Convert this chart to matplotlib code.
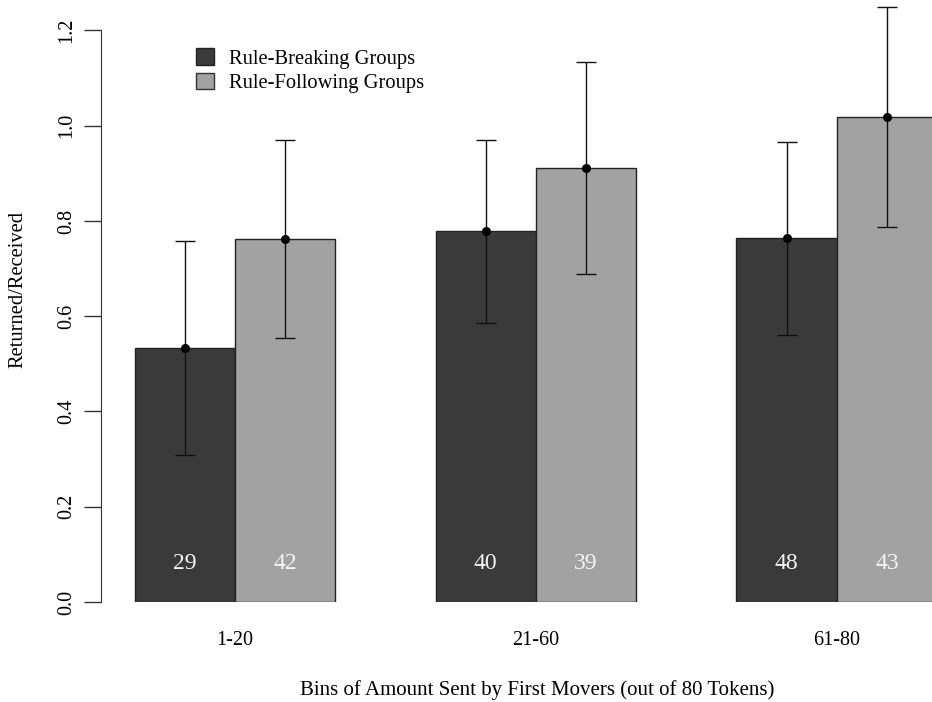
import matplotlib.pyplot as plt
import numpy as np
from matplotlib.patches import Patch

plt.rcParams["font.family"] = ["Liberation Serif", "DejaVu Serif"]

bins = ["1-20", "21-60", "61-80"]
series_names = ["Rule-Breaking Groups", "Rule-Following Groups"]

breaking_mean = [0.534, 0.778, 0.764]
breaking_low = [0.309, 0.585, 0.561]
breaking_high = [0.759, 0.970, 0.966]
breaking_n = [29, 40, 48]

following_mean = [0.762, 0.912, 1.018]
following_low = [0.554, 0.689, 0.788]
following_high = [0.970, 1.134, 1.249]
following_n = [42, 39, 43]

dark = "#3a3a3a"
light = "#a2a2a2"


def main():
    fig = plt.figure(figsize=(9.32, 7.02), dpi=100)
    # axes placed so that the y axis sits at x=101px and 0 at y=602px
    ax = fig.add_axes([101 / 932, 100 / 702, 1 - 101 / 932, 602 / 702])

    centers = np.arange(len(bins)) * 3.0
    x_dark = centers - 0.5
    x_light = centers + 0.5

    for xs, means, lows, highs, ns, color in [
        (x_dark, breaking_mean, breaking_low, breaking_high, breaking_n, dark),
        (x_light, following_mean, following_low, following_high, following_n, light),
    ]:
        ax.bar(xs, means, width=1.0, color=color, edgecolor="#222222", linewidth=1.0)
        means = np.array(means)
        yerr = [means - np.array(lows), np.array(highs) - means]
        ax.errorbar(xs, means, yerr=yerr, fmt="o", color="black", markersize=5.5,
                    ecolor="#111111", elinewidth=1.0, capsize=7, capthick=1.0,
                    clip_on=False)
        for x, n in zip(xs, ns):
            ax.text(x, 0.08, str(n), ha="center", va="center", color="#f4f4f4",
                    fontsize=17)

    ax.set_xlim((101 - 235) / 100.3, (932 - 235) / 100.3)
    ax.set_ylim(0, 1.264)

    ax.set_yticks([0.0, 0.2, 0.4, 0.6, 0.8, 1.0, 1.2])
    ax.set_yticklabels(["0.0", "0.2", "0.4", "0.6", "0.8", "1.0", "1.2"],
                       rotation=90, va="center", fontsize=14.5)
    ax.tick_params(axis="y", length=12, width=1.0, pad=6, color="#333333")

    ax.set_xticks(centers)
    ax.set_xticklabels(bins, fontsize=14.5)
    ax.tick_params(axis="x", length=0, pad=21)

    for side in ["top", "right", "bottom"]:
        ax.spines[side].set_visible(False)
    ax.spines["left"].set_bounds(0, 1.2)
    ax.spines["left"].set_color("#333333")

    fig.text(18 / 932, 1 - 290 / 702, "Returned/Received", rotation=90,
             ha="center", va="center", fontsize=14.8)
    fig.text(537 / 932, 1 - 690 / 702,
             "Bins of Amount Sent by First Movers (out of 80 Tokens)",
             ha="center", va="center", fontsize=15)

    handles = [
        Patch(facecolor=dark, edgecolor="#222222", linewidth=1.0),
        Patch(facecolor=light, edgecolor="#333333", linewidth=1.0),
    ]
    fig.legend(handles, series_names, loc="upper left",
               bbox_to_anchor=(186 / 932, 1 - 38 / 702), frameon=False,
               fontsize=14.8, handlelength=0.85, handleheight=0.85,
               handletextpad=0.75, labelspacing=0.2, borderpad=0)

    fig.savefig("out.png", dpi=100)
    plt.close(fig)


if __name__ == "__main__":
    main()
